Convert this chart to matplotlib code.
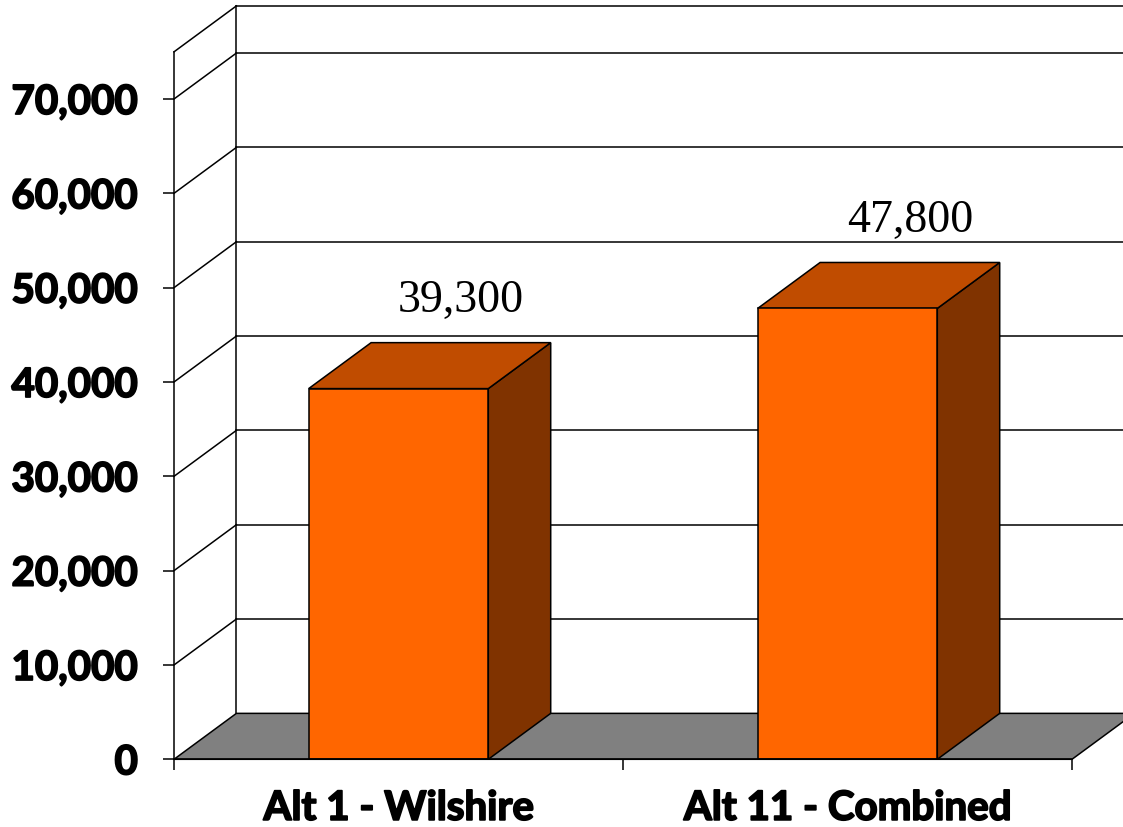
import matplotlib
matplotlib.use("Agg")
import matplotlib.pyplot as plt
import matplotlib.patheffects as pe
from matplotlib.patches import Polygon, Rectangle

# data
categories = ["Alt 1 - Wilshire", "Alt 11 - Combined"]
values = [39300, 47800]
value_labels = ["39,300", "47,800"]
yticks = [0, 10000, 20000, 30000, 40000, 50000, 60000, 70000]
ytick_labels = ["0", "10,000", "20,000", "30,000", "40,000", "50,000", "60,000", "70,000"]
wall_top = 75000

# pseudo-3d depth offset (in category units / value units)
DX = 0.139
DY = 4870
BAR_W = 0.4

FRONT = "#FF6600"
TOP = "#C04C00"
SIDE = "#803300"
FLOOR = "#808080"

W, H = 1123, 827
fig = plt.figure(figsize=(W / 100, H / 100), dpi=100)
ax = fig.add_axes([174 / W, (H - 759.3) / H, 898 / W, 660.3 / H])
ax.set_xlim(0, len(categories))
ax.set_ylim(0, 70000)
for s in ax.spines.values():
    s.set_visible(False)

lw = 1.1
xr = len(categories) + DX + 0.2  # back wall runs off the right edge

# back wall gridlines
for v in yticks[1:] + [wall_top]:
    ax.plot([DX, xr], [v + DY, v + DY], color="black", lw=lw, clip_on=False, zorder=1)
# back wall left edge
ax.plot([DX, DX], [DY, wall_top + DY], color="black", lw=lw, clip_on=False, zorder=1)
# left wall diagonals
for v in yticks[1:] + [wall_top]:
    ax.plot([0, DX], [v, v + DY], color="black", lw=lw, clip_on=False, zorder=1)

# floor
n = len(categories)
floor = Polygon([(0, 0), (n, 0), (n + DX, DY), (DX, DY)], closed=True,
                facecolor=FLOOR, edgecolor="black", lw=lw, clip_on=False, zorder=2)
ax.add_patch(floor)

# bars
for i, v in enumerate(values):
    x0 = i + 0.5 - BAR_W / 2
    x1 = i + 0.5 + BAR_W / 2
    side = Polygon([(x1, 0), (x1 + DX, DY), (x1 + DX, v + DY), (x1, v)], closed=True,
                   facecolor=SIDE, edgecolor="black", lw=lw, clip_on=False, zorder=3)
    top = Polygon([(x0, v), (x1, v), (x1 + DX, v + DY), (x0 + DX, v + DY)], closed=True,
                  facecolor=TOP, edgecolor="black", lw=lw, clip_on=False, zorder=3)
    front = Rectangle((x0, 0), BAR_W, v, facecolor=FRONT, edgecolor="black",
                      lw=lw, clip_on=False, zorder=4)
    ax.add_patch(side)
    ax.add_patch(top)
    ax.add_patch(front)
    # value label sits above the back edge of the bar top
    ax.annotate(value_labels[i], xy=(i + 0.5 + DX, v + DY), xytext=(0, 22),
                textcoords="offset points", ha="center", va="baseline",
                fontsize=33, family="Liberation Serif", zorder=5)

# front axes
ax.plot([0, 0], [0, wall_top], color="black", lw=lw, clip_on=False, zorder=5)
ax.plot([0, n], [0, 0], color="black", lw=lw, clip_on=False, zorder=5)

label_font = dict(family="Lato", weight="bold", size=29)
heavy = [pe.withStroke(linewidth=1.3, foreground="black")]
ax.set_yticks(yticks)
for t in ax.set_yticklabels(ytick_labels, fontdict=label_font):
    t.set_path_effects(heavy)
ax.tick_params(axis="y", length=8, width=lw, pad=18)

ax.set_xticks(range(n + 1))
ax.set_xticklabels([])
ax.set_xticks([i + 0.5 for i in range(n)], minor=True)
for t in ax.set_xticklabels(categories, minor=True, fontdict=label_font):
    t.set_path_effects(heavy)
ax.tick_params(axis="x", which="major", length=8, width=lw)
ax.tick_params(axis="x", which="minor", length=0, pad=22)

fig.savefig("out.png", dpi=100)
